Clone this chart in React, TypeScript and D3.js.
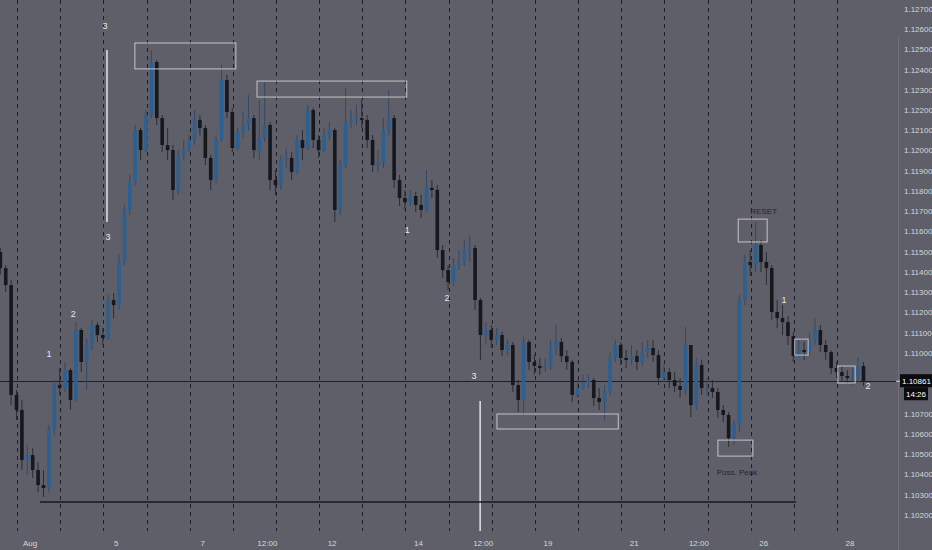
import React, { useEffect, useRef } from 'react';
import * as d3 from 'd3';

// EURUSD 3h candles, Aug 1 -> Aug 28 (x = trading day index, Aug 1 = 0)
const candleStart = -0.6875;
const candleStep = 0.125;
const firstOpen = 1.11499;

const closes = [
  1.11420, 1.11336, 1.10793, 1.10719, 1.10472, 1.10496, 1.10422, 1.10348, 1.10333, 1.10620,
  1.10842, 1.10827, 1.10916, 1.10768, 1.11114, 1.10956, 1.11040, 1.11139, 1.11089, 1.11074,
  1.11262, 1.11237, 1.11450, 1.11707, 1.11845, 1.12102, 1.12003, 1.12176, 1.12438, 1.12161,
  1.12028, 1.12003, 1.11806, 1.11979, 1.12003, 1.12053, 1.12152, 1.12112, 1.11964, 1.11855,
  1.12053, 1.12349, 1.12191, 1.12013, 1.12092, 1.12127, 1.12161, 1.12003, 1.12063, 1.12127,
  1.11855, 1.11830, 1.11954, 1.11964, 1.11895, 1.12053, 1.12013, 1.12201, 1.12053, 1.12003,
  1.12077, 1.12102, 1.11707, 1.11929, 1.12142, 1.12152, 1.12161, 1.12152, 1.12053, 1.11929,
  1.11944, 1.12102, 1.12161, 1.11855, 1.11766, 1.11746, 1.11776, 1.11732, 1.11707, 1.11816,
  1.11806, 1.11509, 1.11410, 1.11351, 1.11435, 1.11450, 1.11509, 1.11519, 1.11262, 1.11089,
  1.11114, 1.11065, 1.11089, 1.11015, 1.11040, 1.10842, 1.10768, 1.11055, 1.10956, 1.10936,
  1.10926, 1.10936, 1.11025, 1.11055, 1.10985, 1.10956, 1.10793, 1.10827, 1.10857, 1.10867,
  1.10778, 1.10758, 1.10808, 1.10976, 1.11040, 1.10976, 1.10966, 1.10985, 1.10956, 1.11005,
  1.11025, 1.10990, 1.10877, 1.10906, 1.10867, 1.10837, 1.10818, 1.11040, 1.10743, 1.10941,
  1.10827, 1.10827, 1.10808, 1.10719, 1.10694, 1.10580, 1.10645, 1.11262, 1.11450, 1.11435,
  1.11534, 1.11450, 1.11420, 1.11203, 1.11173, 1.11153, 1.11084, 1.10985, 1.11015, 1.11005,
  1.11065, 1.11114, 1.11040, 1.11005, 1.10926, 1.10906, 1.10887, 1.10877, 1.10887, 1.10936,
  1.10861,
];

const highs = [
  1.11519, 1.11435, 1.11361, 1.10818, 1.10768, 1.10546, 1.10531, 1.10462, 1.10422, 1.10645,
  1.10867, 1.10926, 1.10956, 1.10926, 1.11153, 1.11124, 1.11074, 1.11163, 1.11153, 1.11124,
  1.11287, 1.11297, 1.11485, 1.11732, 1.11880, 1.12127, 1.12112, 1.12201, 1.12497, 1.12448,
  1.12176, 1.12112, 1.12028, 1.12003, 1.12053, 1.12077, 1.12201, 1.12176, 1.12127, 1.11979,
  1.12077, 1.12423, 1.12374, 1.12211, 1.12112, 1.12191, 1.12275, 1.12176, 1.12250, 1.12339,
  1.12142, 1.11905, 1.11979, 1.12013, 1.11993, 1.12077, 1.12102, 1.12226, 1.12211, 1.12077,
  1.12112, 1.12142, 1.12112, 1.11954, 1.12310, 1.12201, 1.12226, 1.12250, 1.12176, 1.12077,
  1.12003, 1.12161, 1.12300, 1.12176, 1.11880, 1.11806, 1.11806, 1.11796, 1.11781, 1.11905,
  1.11855, 1.11830, 1.11534, 1.11435, 1.11470, 1.11509, 1.11559, 1.11583, 1.11534, 1.11272,
  1.11153, 1.11139, 1.11124, 1.11104, 1.11065, 1.11055, 1.10867, 1.11084, 1.11065, 1.10990,
  1.10976, 1.10976, 1.11065, 1.11139, 1.11074, 1.11015, 1.10966, 1.10867, 1.10892, 1.10896,
  1.10877, 1.10827, 1.10842, 1.11005, 1.11065, 1.11055, 1.11015, 1.11040, 1.11015, 1.11055,
  1.11065, 1.11065, 1.11015, 1.10941, 1.10926, 1.10906, 1.10877, 1.11129, 1.11040, 1.10976,
  1.10966, 1.10877, 1.10867, 1.10827, 1.10743, 1.10709, 1.10669, 1.11287, 1.11485, 1.11509,
  1.11648, 1.11559, 1.11499, 1.11435, 1.11262, 1.11237, 1.11183, 1.11104, 1.11065, 1.11055,
  1.11104, 1.11173, 1.11139, 1.11065, 1.11015, 1.10956, 1.10936, 1.10916, 1.10926, 1.10980,
  1.10956,
];

const lows = [
  1.11386, 1.11302, 1.10743, 1.10669, 1.10422, 1.10398, 1.10383, 1.10313, 1.10289, 1.10313,
  1.10595, 1.10793, 1.10808, 1.10719, 1.10758, 1.10906, 1.10818, 1.11015, 1.11055, 1.11040,
  1.11065, 1.11173, 1.11213, 1.11435, 1.11682, 1.11830, 1.11954, 1.11993, 1.12161, 1.12127,
  1.11993, 1.11954, 1.11756, 1.11781, 1.11954, 1.11993, 1.12028, 1.12077, 1.11929, 1.11806,
  1.11840, 1.12043, 1.12161, 1.11993, 1.12003, 1.12063, 1.12102, 1.11964, 1.11954, 1.12043,
  1.11806, 1.11781, 1.11806, 1.11914, 1.11855, 1.11880, 1.11954, 1.12003, 1.12013, 1.11964,
  1.11993, 1.12053, 1.11648, 1.11682, 1.11914, 1.12112, 1.12122, 1.12112, 1.12013, 1.11895,
  1.11895, 1.11914, 1.12077, 1.11816, 1.11727, 1.11707, 1.11727, 1.11697, 1.11667, 1.11697,
  1.11766, 1.11470, 1.11371, 1.11312, 1.11331, 1.11410, 1.11430, 1.11450, 1.11213, 1.10966,
  1.11040, 1.11025, 1.11040, 1.10985, 1.10990, 1.10808, 1.10709, 1.10694, 1.10916, 1.10896,
  1.10892, 1.10906, 1.10916, 1.10990, 1.10956, 1.10916, 1.10758, 1.10778, 1.10818, 1.10827,
  1.10738, 1.10719, 1.10669, 1.10793, 1.10956, 1.10941, 1.10926, 1.10941, 1.10916, 1.10936,
  1.10976, 1.10956, 1.10842, 1.10857, 1.10827, 1.10808, 1.10778, 1.10793, 1.10684, 1.10719,
  1.10793, 1.10793, 1.10778, 1.10679, 1.10659, 1.10536, 1.10546, 1.10610, 1.11237, 1.11381,
  1.11400, 1.11400, 1.11336, 1.11163, 1.11124, 1.11089, 1.11040, 1.10956, 1.10976, 1.10966,
  1.10990, 1.11040, 1.11005, 1.10966, 1.10896, 1.10877, 1.10857, 1.10847, 1.10842, 1.10857,
  1.10837,
];

const priceTicks = [
  1.127, 1.126, 1.125, 1.124, 1.123, 1.122, 1.121, 1.12, 1.119, 1.118, 1.117, 1.116, 1.115,
  1.114, 1.113, 1.112, 1.111, 1.11, 1.109, 1.108, 1.107, 1.106, 1.105, 1.104, 1.103, 1.102,
];
const timeTickDays = [0, 2, 4, 5.5, 7, 9, 10.5, 12, 14, 15.5, 17, 19];
const timeTickLabels = ['Aug', '5', '7', '12:00', '12', '14', '12:00', '19', '21', '12:00', '26', '28'];
const sessionOffset = -0.3;

const lastPrice = 1.10861;
const countdown = '14:26';

// drawings (day index / price)
const boxes = [
  { t0: 2.43, t1: 4.77, p0: 1.12532, p1: 1.12404 },
  { t0: 5.26, t1: 8.73, p0: 1.12344, p1: 1.12265 },
  { t0: 10.82, t1: 13.63, p0: 1.10699, p1: 1.10625 },
  { t0: 15.94, t1: 16.75, p0: 1.1057, p1: 1.10491 },
  { t0: 16.41, t1: 17.08, p0: 1.11662, p1: 1.11549 },
  { t0: 17.72, t1: 18.03, p0: 1.11069, p1: 1.1099 },
  { t0: 18.72, t1: 19.12, p0: 1.10936, p1: 1.10852 },
];
const vLines = [
  { t: 1.784, p0: 1.12497, p1: 1.11648 },
  { t: 10.43, p0: 1.10763, p1: 1.1 },
];
const supportLine = { t0: 0.23, t1: 17.75, p: 1.10264 };
const waveLabels = [
  { t: 1.74, p: 1.12616, text: '3' },
  { t: 1.81, p: 1.11573, text: '3' },
  { t: 1.0, p: 1.11193, text: '2' },
  { t: 0.44, p: 1.10995, text: '1' },
  { t: 8.74, p: 1.11608, text: '1' },
  { t: 9.66, p: 1.11272, text: '2' },
  { t: 10.29, p: 1.10887, text: '3' },
  { t: 17.47, p: 1.11262, text: '1' },
  { t: 19.42, p: 1.10837, text: '2' },
];
const notes = [
  { t: 17.0, p: 1.11702, text: 'RESET' },
  { t: 16.38, p: 1.10412, text: 'Poss. Peak' },
];

const BG = '#5e5f68';
const FONT = "'Liberation Sans', 'DejaVu Sans', sans-serif";

const App: React.FC = () => {
  const svgRef = useRef<SVGSVGElement | null>(null);

  useEffect(() => {
    if (!svgRef.current) return;
    const width = 932;
    const height = 550;
    const plotRight = 898;
    const plotBottom = 531;

    const svg = d3.select(svgRef.current);
    svg.selectAll('*').remove();

    const x = d3.scaleLinear().domain([0, 19]).range([30, 850]);
    const y = d3.scaleLinear().domain([1.102, 1.127]).range([515, 9]);

    svg.append('rect').attr('width', width).attr('height', height).attr('fill', BG);

    svg.append('defs')
      .append('clipPath').attr('id', 'plot')
      .append('rect').attr('width', plotRight).attr('height', plotBottom);

    const plot = svg.append('g').attr('clip-path', 'url(#plot)');

    // session separators
    const breaks = d3.range(0, 20).map((k) => k + sessionOffset);
    plot.selectAll('line.sess')
      .data(breaks)
      .enter()
      .append('line')
      .attr('class', 'sess')
      .attr('x1', (d) => Math.round(x(d)) + 0.5)
      .attr('x2', (d) => Math.round(x(d)) + 0.5)
      .attr('y1', 0)
      .attr('y2', plotBottom)
      .attr('stroke', '#1f2026')
      .attr('stroke-width', 1)
      .attr('stroke-dasharray', '4,4');

    // last price line
    plot.append('line')
      .attr('x1', 0).attr('x2', plotRight)
      .attr('y1', Math.round(y(lastPrice)) + 0.5).attr('y2', Math.round(y(lastPrice)) + 0.5)
      .attr('stroke', '#202127').attr('stroke-width', 1);

    // candles
    const candles = closes.map((c, i) => {
      const o = i === 0 ? firstOpen : closes[i - 1];
      return {
        t: candleStart + i * candleStep,
        o,
        c,
        h: Math.max(highs[i], o, c),
        l: Math.min(lows[i], o, c),
      };
    });
    const bodyW = 3.6;
    const g = plot.append('g');
    g.selectAll('line.wick')
      .data(candles)
      .enter()
      .append('line')
      .attr('class', 'wick')
      .attr('x1', (d) => x(d.t))
      .attr('x2', (d) => x(d.t))
      .attr('y1', (d) => y(d.h))
      .attr('y2', (d) => y(d.l))
      .attr('stroke', (d) => (d.c >= d.o ? '#34496a' : '#2b2d33'))
      .attr('stroke-width', 1);
    g.selectAll('rect.body')
      .data(candles)
      .enter()
      .append('rect')
      .attr('class', 'body')
      .attr('x', (d) => x(d.t) - bodyW / 2)
      .attr('y', (d) => y(Math.max(d.o, d.c)))
      .attr('width', bodyW)
      .attr('height', (d) => Math.max(1, Math.abs(y(d.o) - y(d.c))))
      .attr('fill', (d) => (d.c >= d.o ? '#2c6092' : '#16181d'));

    // drawings
    plot.selectAll('rect.box')
      .data(boxes)
      .enter()
      .append('rect')
      .attr('class', 'box')
      .attr('x', (d) => x(d.t0))
      .attr('y', (d) => y(d.p0))
      .attr('width', (d) => x(d.t1) - x(d.t0))
      .attr('height', (d) => y(d.p1) - y(d.p0))
      .attr('fill', 'none')
      .attr('stroke', '#c4c5c9')
      .attr('stroke-width', 1);

    plot.selectAll('line.vl')
      .data(vLines)
      .enter()
      .append('line')
      .attr('class', 'vl')
      .attr('x1', (d) => x(d.t))
      .attr('x2', (d) => x(d.t))
      .attr('y1', (d) => y(d.p0))
      .attr('y2', (d) => y(d.p1))
      .attr('stroke', '#e4e4e6')
      .attr('stroke-width', 1.5);

    plot.append('line')
      .attr('x1', x(supportLine.t0)).attr('x2', x(supportLine.t1))
      .attr('y1', y(supportLine.p)).attr('y2', y(supportLine.p))
      .attr('stroke', '#17181c').attr('stroke-width', 1.5);

    plot.selectAll('text.wave')
      .data(waveLabels)
      .enter()
      .append('text')
      .attr('class', 'wave')
      .attr('x', (d) => x(d.t))
      .attr('y', (d) => y(d.p))
      .attr('dy', '0.35em')
      .attr('text-anchor', 'middle')
      .attr('font-family', FONT)
      .attr('font-size', 9)
      .attr('fill', '#e8e8ea')
      .text((d) => d.text);

    plot.selectAll('text.note')
      .data(notes)
      .enter()
      .append('text')
      .attr('class', 'note')
      .attr('x', (d) => x(d.t))
      .attr('y', (d) => y(d.p))
      .attr('dy', '0.35em')
      .attr('text-anchor', 'middle')
      .attr('font-family', FONT)
      .attr('font-size', 8)
      .attr('fill', '#25262b')
      .text((d) => d.text);

    // price axis
    svg.append('line')
      .attr('x1', plotRight + 0.5).attr('x2', plotRight + 0.5)
      .attr('y1', 37).attr('y2', height)
      .attr('stroke', '#6f7079').attr('stroke-width', 1);

    const ly = y(lastPrice);
    // labels hidden behind the last-price tag are not drawn
    const visibleTicks = priceTicks.filter((d) => y(d) < ly - 10 || y(d) > ly + 22);
    svg.selectAll('text.ptick')
      .data(visibleTicks)
      .enter()
      .append('text')
      .attr('class', 'ptick')
      .attr('x', 904)
      .attr('y', (d) => y(d))
      .attr('dy', '0.35em')
      .attr('font-family', FONT)
      .attr('font-size', 8)
      .attr('fill', '#d6d7da')
      .text((d) => d3.format('.5f')(d));

    svg.append('line')
      .attr('x1', plotRight - 2).attr('x2', plotRight + 2)
      .attr('y1', ly).attr('y2', ly)
      .attr('stroke', '#e0e0e0');
    svg.append('rect')
      .attr('x', plotRight + 2).attr('y', ly - 7).attr('width', width - plotRight - 2).attr('height', 13)
      .attr('fill', '#0b0b0d');
    svg.append('text')
      .attr('x', 902).attr('y', ly).attr('dy', '0.35em')
      .attr('font-family', FONT).attr('font-size', 8)
      .attr('fill', '#ffffff')
      .text(d3.format('.5f')(lastPrice));
    svg.append('rect')
      .attr('x', 904).attr('y', ly + 6).attr('width', 24).attr('height', 13)
      .attr('fill', '#0b0b0d');
    svg.append('text')
      .attr('x', 916).attr('y', ly + 12.5).attr('dy', '0.35em').attr('text-anchor', 'middle')
      .attr('font-family', FONT).attr('font-size', 8)
      .attr('fill', '#ffffff')
      .text(countdown);

    // time axis
    svg.selectAll('text.ttick')
      .data(timeTickDays)
      .enter()
      .append('text')
      .attr('class', 'ttick')
      .attr('x', (d) => x(d))
      .attr('y', 543)
      .attr('dy', '0.35em')
      .attr('text-anchor', 'middle')
      .attr('font-family', FONT)
      .attr('font-size', 8)
      .attr('fill', '#d6d7da')
      .text((d, i) => timeTickLabels[i]);
  }, []);

  return (
    <svg
      ref={svgRef}
      width={932}
      height={550}
      style={{ position: 'absolute', left: 0, top: 0, display: 'block' }}
    />
  );
};

export default App;
